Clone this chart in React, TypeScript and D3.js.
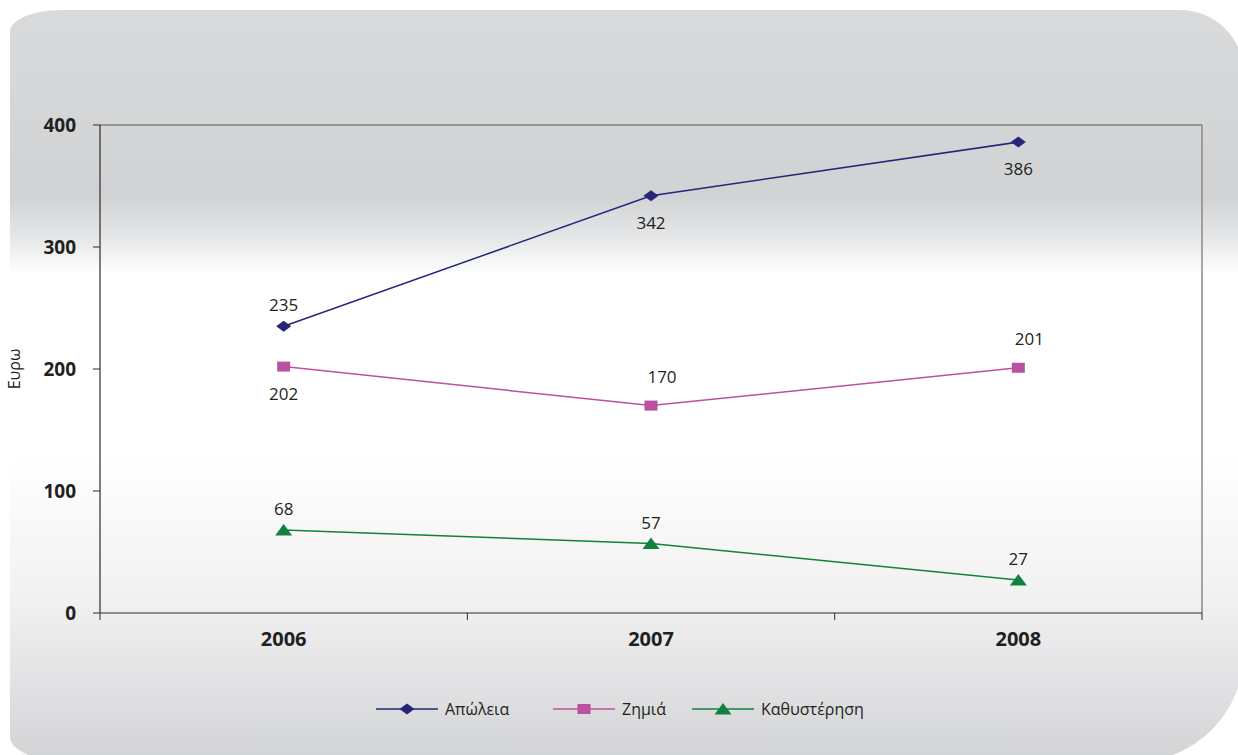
import React from "react";
import * as d3 from "d3";

const years = ["2006", "2007", "2008"];
const lossValues = [235, 342, 386];
const damageValues = [202, 170, 201];
const delayValues = [68, 57, 27];
const seriesNames = ["Απώλεια", "Ζημιά", "Καθυστέρηση"];
const lossLabelPos = ["above", "below", "below"];
const damageLabelPos = ["below", "aboveRight", "aboveRight"];
const delayLabelPos = ["above", "above", "above"];
const yTicks = [0, 100, 200, 300, 400];
const yTitle = "Ευρω";

const W = 1238;
const H = 755;
const FONT = "'Open Sans', 'Noto Sans', sans-serif";

const series = [
  { name: seriesNames[0], values: lossValues, pos: lossLabelPos, color: "#25267a", marker: "diamond" },
  { name: seriesNames[1], values: damageValues, pos: damageLabelPos, color: "#b9539f", marker: "square" },
  { name: seriesNames[2], values: delayValues, pos: delayLabelPos, color: "#12803e", marker: "triangle" },
];

const labelOffset: Record<string, [number, number]> = {
  above: [0, -21],
  below: [0, 27],
  aboveRight: [11, -29],
};

function Marker({ type, x, y, color }: { type: string; x: number; y: number; color: string }) {
  if (type === "diamond") {
    return <path d={`M${x - 7.5},${y}L${x},${y - 5.5}L${x + 7.5},${y}L${x},${y + 5.5}Z`} fill={color} />;
  }
  if (type === "square") {
    return <rect x={x - 6.5} y={y - 5} width={13} height={10} fill={color} />;
  }
  return <path d={`M${x - 8.5},${y + 5.5}L${x + 8.5},${y + 5.5}L${x},${y - 6}Z`} fill={color} />;
}

export default function App() {
  const left = 100, right = 1202, top = 125, bottom = 613;
  const x = d3.scaleBand<string>().domain(years).range([left, right]).padding(0);
  const y = d3.scaleLinear().domain([0, 400]).range([bottom, top]);
  const cx = (yr: string) => (x(yr) as number) + x.bandwidth() / 2;
  const line = d3
    .line<number>()
    .x((_, i) => cx(years[i]))
    .y((d) => y(d));

  const catTicks = [...years.map((yr) => x(yr) as number), right];

  // background shape
  const L = 10, T = 10, R = 1244, B = 762;
  const bgPath = [
    `M${L},${T + 22}`,
    `A50,22 0 0 1 ${L + 50},${T}`,
    `L${R - 64},${T}`,
    `A64,64 0 0 1 ${R},${T + 64}`,
    `L${R},${B - 110}`,
    `A110,110 0 0 1 ${R - 110},${B}`,
    `L${L + 60},${B}`,
    `A60,25 0 0 1 ${L},${B - 25}`,
    "Z",
  ].join(" ");

  const legendX = [376, 553, 692];
  const legendY = 709;

  return (
    <svg width={W} height={H} style={{ display: "block", position: "absolute", left: 0, top: 0 }}>
      <defs>
        <linearGradient id="bg" gradientUnits="userSpaceOnUse" x1="0" y1="10" x2="0" y2="762">
          <stop offset={0} stopColor="#d9dadc" />
          <stop offset={(195 - 10) / 752} stopColor="#d1d2d4" />
          <stop offset={(235 - 10) / 752} stopColor="#e4e5e6" />
          <stop offset={(275 - 10) / 752} stopColor="#ffffff" />
          <stop offset={(455 - 10) / 752} stopColor="#ffffff" />
          <stop offset={(600 - 10) / 752} stopColor="#f1f1f2" />
          <stop offset={1} stopColor="#d2d3d5" />
        </linearGradient>
      </defs>
      <rect x={0} y={0} width={W} height={H} fill="#ffffff" />
      <path d={bgPath} fill="url(#bg)" />

      {/* plot border */}
      <line x1={left} x2={right} y1={top} y2={top} stroke="#808080" strokeWidth={1.5} />
      <line x1={right} x2={right} y1={top} y2={bottom} stroke="#8a8a8a" strokeWidth={1.5} />
      <line x1={left} x2={left} y1={top} y2={bottom} stroke="#2b2b2b" strokeWidth={1.2} />
      <line x1={left} x2={right} y1={bottom} y2={bottom} stroke="#2b2b2b" strokeWidth={1.2} />

      {/* y ticks */}
      {yTicks.map((t) => (
        <g key={t}>
          <line x1={left - 7} x2={left} y1={y(t)} y2={y(t)} stroke="#2b2b2b" strokeWidth={1} />
          <text x={76} y={y(t)} dy="0.36em" textAnchor="end" fontFamily={FONT} fontWeight="bold" fontSize={19} fill="#231f20">
            {t}
          </text>
        </g>
      ))}
      {/* x ticks */}
      {catTicks.map((t, i) => (
        <line key={i} x1={t} x2={t} y1={bottom} y2={bottom + 7} stroke="#2b2b2b" strokeWidth={1} />
      ))}
      {years.map((yr) => (
        <text key={yr} x={cx(yr)} y={646} textAnchor="middle" fontFamily={FONT} fontWeight="bold" fontSize={20} fill="#231f20">
          {yr}
        </text>
      ))}

      {/* y title */}
      <text
        transform={`translate(20, ${(top + bottom) / 2}) rotate(-90)`}
        textAnchor="middle"
        fontFamily={FONT}
        fontSize={16}
        fill="#231f20"
      >
        {yTitle}
      </text>

      {/* series */}
      {series.map((s) => (
        <g key={s.name}>
          <path d={line(s.values) as string} fill="none" stroke={s.color} strokeWidth={1.5} />
          {s.values.map((v, i) => (
            <Marker key={i} type={s.marker} x={cx(years[i])} y={y(v)} color={s.color} />
          ))}
          {s.values.map((v, i) => {
            const [dx, dy] = labelOffset[s.pos[i]];
            return (
              <text
                key={"l" + i}
                x={cx(years[i]) + dx}
                y={y(v) + dy}
                dy="0.36em"
                textAnchor="middle"
                fontFamily={FONT}
                fontSize={17}
                fill="#231f20"
              >
                {v}
              </text>
            );
          })}
        </g>
      ))}

      {/* legend */}
      {series.map((s, i) => (
        <g key={"lg" + i}>
          <line x1={legendX[i]} x2={legendX[i] + 62} y1={legendY} y2={legendY} stroke={s.color} strokeWidth={1.5} />
          <Marker type={s.marker} x={legendX[i] + 31} y={legendY} color={s.color} />
          <text x={legendX[i] + 69} y={legendY} dy="0.36em" fontFamily={FONT} fontSize={16} fill="#231f20">
            {s.name}
          </text>
        </g>
      ))}
    </svg>
  );
}
